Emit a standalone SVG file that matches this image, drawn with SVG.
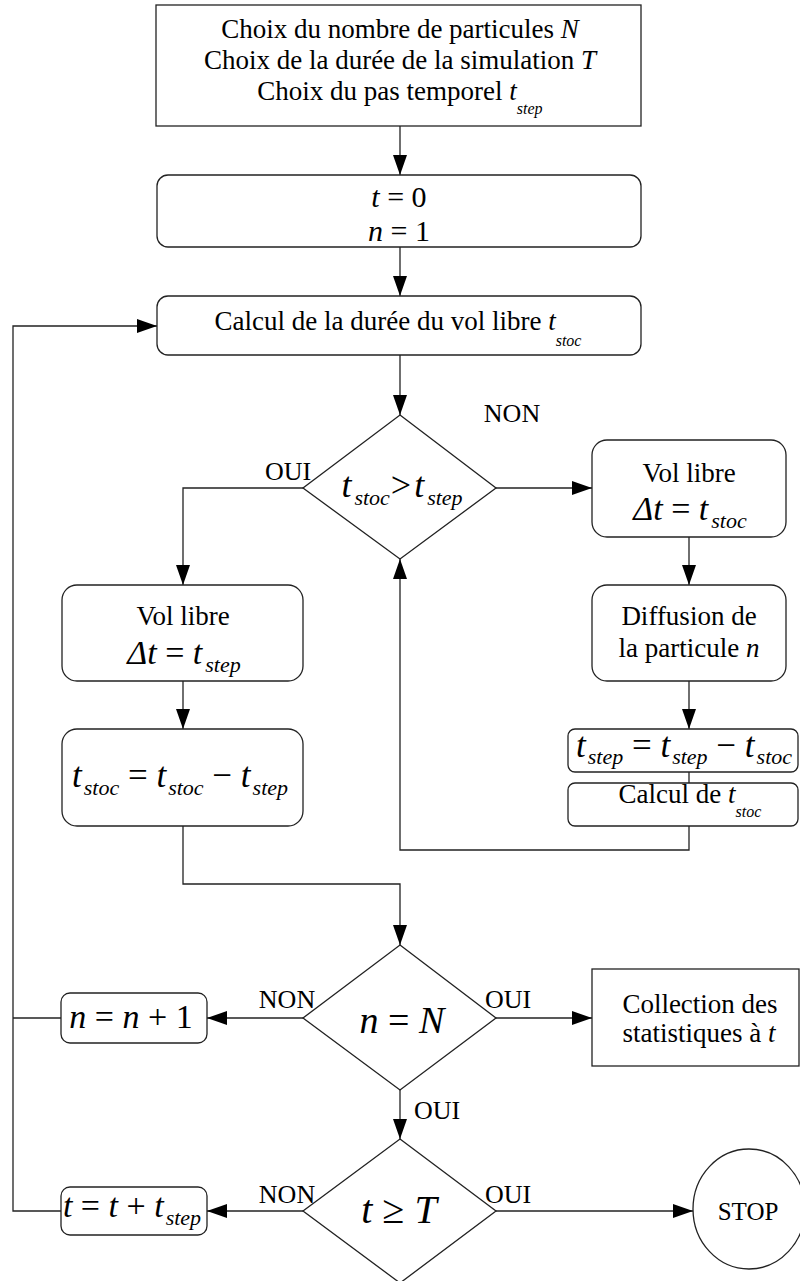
<svg xmlns="http://www.w3.org/2000/svg" width="800" height="1281" viewBox="0 0 800 1281">
<style>
  .box{fill:#fff;stroke:#222;stroke-width:1.3}
  .ln{fill:none;stroke:#222;stroke-width:1.3}
  text{font-family:"Liberation Serif","Times New Roman",serif;fill:#000}
  .t27{font-size:27px}
  .lbl{font-size:26px}
  .m{font-style:italic}
  .sub{font-style:italic;font-size:22px}
  .ssub{font-style:italic;font-size:16px}
</style>
<defs>
  <marker id="ah" markerUnits="userSpaceOnUse" markerWidth="20" markerHeight="14" refX="20" refY="7" orient="auto">
    <path d="M0,0 L20,7 L0,14 z" fill="#000"/>
  </marker>
</defs>
<rect width="800" height="1281" fill="#fff"/>

<g id="connectors">
  <path class="ln" d="M400,126 V175" marker-end="url(#ah)"/>
  <path class="ln" d="M400,247 V296" marker-end="url(#ah)"/>
  <path class="ln" d="M400,355 V415" marker-end="url(#ah)"/>
  <path class="ln" d="M303,488 H183 V585" marker-end="url(#ah)"/>
  <path class="ln" d="M496,488 H592" marker-end="url(#ah)"/>
  <path class="ln" d="M689,537 V585" marker-end="url(#ah)"/>
  <path class="ln" d="M689,681 V729" marker-end="url(#ah)"/>
  <path class="ln" d="M689,772 V783"/>
  <path class="ln" d="M689,826 V850 H400 V559" marker-end="url(#ah)"/>
  <path class="ln" d="M183,681 V729" marker-end="url(#ah)"/>
  <path class="ln" d="M183,826 V884 H400 V945" marker-end="url(#ah)"/>
  <path class="ln" d="M303,1018 H207" marker-end="url(#ah)"/>
  <path class="ln" d="M496,1018 H592" marker-end="url(#ah)"/>
  <path class="ln" d="M400,1090 V1139" marker-end="url(#ah)"/>
  <path class="ln" d="M303,1211 H207" marker-end="url(#ah)"/>
  <path class="ln" d="M496,1211 H693" marker-end="url(#ah)"/>
  <path class="ln" d="M61,1018 H13"/>
  <path class="ln" d="M61,1211 H13 V326 H157" marker-end="url(#ah)"/>
  <text class="lbl" x="512" y="422" text-anchor="middle">NON</text>
  <text class="lbl" x="288" y="480" text-anchor="middle">OUI</text>
  <text class="lbl" x="287" y="1008" text-anchor="middle">NON</text>
  <text class="lbl" x="508" y="1008" text-anchor="middle">OUI</text>
  <text class="lbl" x="437" y="1119" text-anchor="middle">OUI</text>
  <text class="lbl" x="287" y="1203" text-anchor="middle">NON</text>
  <text class="lbl" x="508" y="1203" text-anchor="middle">OUI</text>
</g>

<g id="init">
  <rect class="box" x="156" y="5" width="485" height="121"/>
  <text class="t27" x="400" y="38" text-anchor="middle">Choix du nombre de particules <tspan class="m">N</tspan></text>
  <text class="t27" x="400" y="69" text-anchor="middle">Choix de la durée de la simulation <tspan class="m">T</tspan></text>
  <text class="t27" x="400" y="100" text-anchor="middle">Choix du pas temporel <tspan class="m">t</tspan><tspan class="ssub" dy="14">step</tspan></text>
</g>

<g id="t0">
  <rect class="box" x="157" y="175" width="484" height="72" rx="11"/>
  <text x="399" y="207" text-anchor="middle" style="font-size:30px"><tspan class="m">t</tspan> = 0</text>
  <text x="399" y="241" text-anchor="middle" style="font-size:30px"><tspan class="m">n</tspan> = 1</text>
</g>

<g id="calcul">
  <rect class="box" x="157" y="296" width="484" height="59" rx="11"/>
  <text class="t27" x="398" y="330" text-anchor="middle">Calcul de la durée du vol libre <tspan class="m">t</tspan><tspan class="ssub" dy="16">stoc</tspan></text>
</g>

<g id="test1">
  <polygon class="box" points="400,415 496,488 400,559 303,488"/>
  <text x="402" y="497" text-anchor="middle" style="font-size:36px"><tspan class="m">t</tspan><tspan class="sub" dy="8" dx="3">stoc</tspan><tspan dy="-8" dx="1">&gt;</tspan><tspan class="m" dx="3">t</tspan><tspan class="sub" dy="8" dx="3">step</tspan></text>
</g>

<g id="vol1">
  <rect class="box" x="592" y="440" width="194" height="97" rx="15"/>
  <text class="t27" x="689" y="482" text-anchor="middle">Vol libre</text>
  <text x="690" y="520" text-anchor="middle" style="font-size:34px"><tspan class="m">Δt</tspan> = <tspan class="m">t</tspan><tspan class="sub" dy="8" dx="3">stoc</tspan></text>
</g>

<g id="diffusion">
  <rect class="box" x="592" y="585" width="194" height="96" rx="15"/>
  <text class="t27" x="689" y="625" text-anchor="middle">Diffusion de</text>
  <text class="t27" x="689" y="657" text-anchor="middle">la particule <tspan class="m">n</tspan></text>
</g>

<g id="tstep-update">
  <rect class="box" x="568" y="729" width="230" height="43" rx="7"/>
  <text x="684" y="757" text-anchor="middle" style="font-size:35px"><tspan class="m">t</tspan><tspan class="sub" dy="7" dx="2">step</tspan><tspan dy="-7"> = </tspan><tspan class="m">t</tspan><tspan class="sub" dy="7" dx="2">step</tspan><tspan dy="-7"> − </tspan><tspan class="m">t</tspan><tspan class="sub" dy="7" dx="2">stoc</tspan></text>
</g>

<g id="calcul2">
  <rect class="box" x="568" y="783" width="230" height="43" rx="7"/>
  <text class="t27" x="690" y="803" text-anchor="middle">Calcul de <tspan class="m">t</tspan><tspan class="ssub" dy="14">stoc</tspan></text>
</g>

<g id="vol2">
  <rect class="box" x="62" y="585" width="241" height="96" rx="15"/>
  <text class="t27" x="183" y="625" text-anchor="middle">Vol libre</text>
  <text x="184" y="664" text-anchor="middle" style="font-size:34px"><tspan class="m">Δt</tspan> = <tspan class="m">t</tspan><tspan class="sub" dy="8" dx="3">step</tspan></text>
</g>

<g id="tstoc-update">
  <rect class="box" x="62" y="729" width="241" height="97" rx="15"/>
  <text x="180" y="787" text-anchor="middle" style="font-size:35px"><tspan class="m">t</tspan><tspan class="sub" dy="8" dx="2">stoc</tspan><tspan dy="-8"> = </tspan><tspan class="m">t</tspan><tspan class="sub" dy="8" dx="2">stoc</tspan><tspan dy="-8"> − </tspan><tspan class="m">t</tspan><tspan class="sub" dy="8" dx="2">step</tspan></text>
</g>

<g id="test2">
  <polygon class="box" points="400,945 496,1018 400,1090 303,1018"/>
  <text x="402" y="1033" text-anchor="middle" style="font-size:38px"><tspan class="m">n</tspan> = <tspan class="m">N</tspan></text>
</g>

<g id="incn">
  <rect class="box" x="61" y="993" width="146" height="50" rx="9"/>
  <text x="131" y="1028" text-anchor="middle" style="font-size:34px"><tspan class="m">n</tspan> = <tspan class="m">n</tspan> + 1</text>
</g>

<g id="stats">
  <rect class="box" x="592" y="969" width="207" height="97"/>
  <text class="t27" x="700" y="1013" text-anchor="middle">Collection des</text>
  <text class="t27" x="699" y="1042" text-anchor="middle">statistiques à <tspan class="m">t</tspan></text>
</g>

<g id="test3">
  <polygon class="box" points="400,1139 496,1211 400,1283 303,1211"/>
  <text x="399" y="1223" text-anchor="middle" style="font-size:40px"><tspan class="m">t</tspan> ≥ <tspan class="m">T</tspan></text>
</g>

<g id="inct">
  <rect class="box" x="61" y="1187" width="146" height="48" rx="9"/>
  <text x="132" y="1217" text-anchor="middle" style="font-size:34px"><tspan class="m">t</tspan> = <tspan class="m">t</tspan> + <tspan class="m">t</tspan><tspan class="sub" dy="8" dx="2">step</tspan></text>
</g>

<g id="stop">
  <ellipse class="box" cx="749" cy="1209" rx="56" ry="60"/>
  <text x="748" y="1220" text-anchor="middle" style="font-size:25px">STOP</text>
</g>
</svg>
